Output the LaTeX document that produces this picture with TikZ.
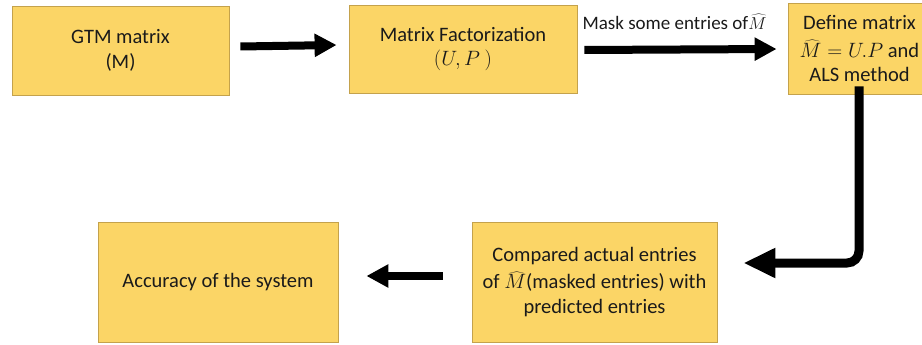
\documentclass[tikz,border=0pt]{standalone}
\usepackage{fontspec}
\setmainfont{Carlito}
\usetikzlibrary{arrows.meta}
\definecolor{boxfill}{HTML}{FBD566}
\definecolor{boxline}{HTML}{C4A24C}
\definecolor{ink}{HTML}{1A1A1A}
\tikzset{
  x=1pt, y=-1pt,
  flowbox/.style={draw=boxline, line width=0.8pt, fill=boxfill, text=ink,
    align=center, inner sep=0pt, font=\fontsize{20.5}{24.5}\selectfont},
  bigarrow/.style={line width=8pt, -{Triangle[length=22pt,width=22pt]}},
  elbowarrow/.style={line width=9pt, rounded corners=12pt,
    -{Triangle[length=32pt,width=28pt]}}
}
\begin{document}
\begin{tikzpicture}
\useasboundingbox (0,0) rectangle (922,345);

% process boxes
\node[flowbox, minimum width=217pt, minimum height=89pt] (gtm) at (120.5,50.5)
  {GTM matrix\\(M)};
\node[flowbox, minimum width=228pt, minimum height=88pt] (mf) at (463,49)
  {Matrix Factorization\\$(U,P~)$};
\node[flowbox, minimum width=143pt, minimum height=91pt] (def) at (859.5,48.5)
  {Define matrix\\[3pt]$\widehat{M}=U.P$ and\\ALS method};
\node[flowbox, minimum width=245pt, minimum height=120pt] (cmp) at (594.5,282)
  {Compared actual entries\\[3pt]of $\widehat{M}$(masked entries) with\\predicted entries};
\node[flowbox, minimum width=240pt, minimum height=120pt] (acc) at (218,282)
  {Accuracy of the system};

% connectors
\draw[bigarrow] ([xshift=11pt,yshift=4pt]gtm.east) -- ([xshift=-12pt,yshift=4pt]mf.west);
\draw[bigarrow] ([xshift=7pt,yshift=-1pt]mf.east) -- ([xshift=-11pt,yshift=-0.5pt]def.west)
  node[midway, above=13pt, xshift=-6pt, text=ink, font=\fontsize{19}{21}\selectfont]
  {Mask some entries of$\widehat{M}$};
\draw[elbowarrow] ([xshift=-0.5pt,yshift=8pt]def.south)
  |- ([xshift=26pt,yshift=19pt]cmp.east);
\draw[bigarrow] ([xshift=-29pt,yshift=6pt]cmp.west) -- ([xshift=28pt,yshift=6pt]acc.east);
\end{tikzpicture}
\end{document}
